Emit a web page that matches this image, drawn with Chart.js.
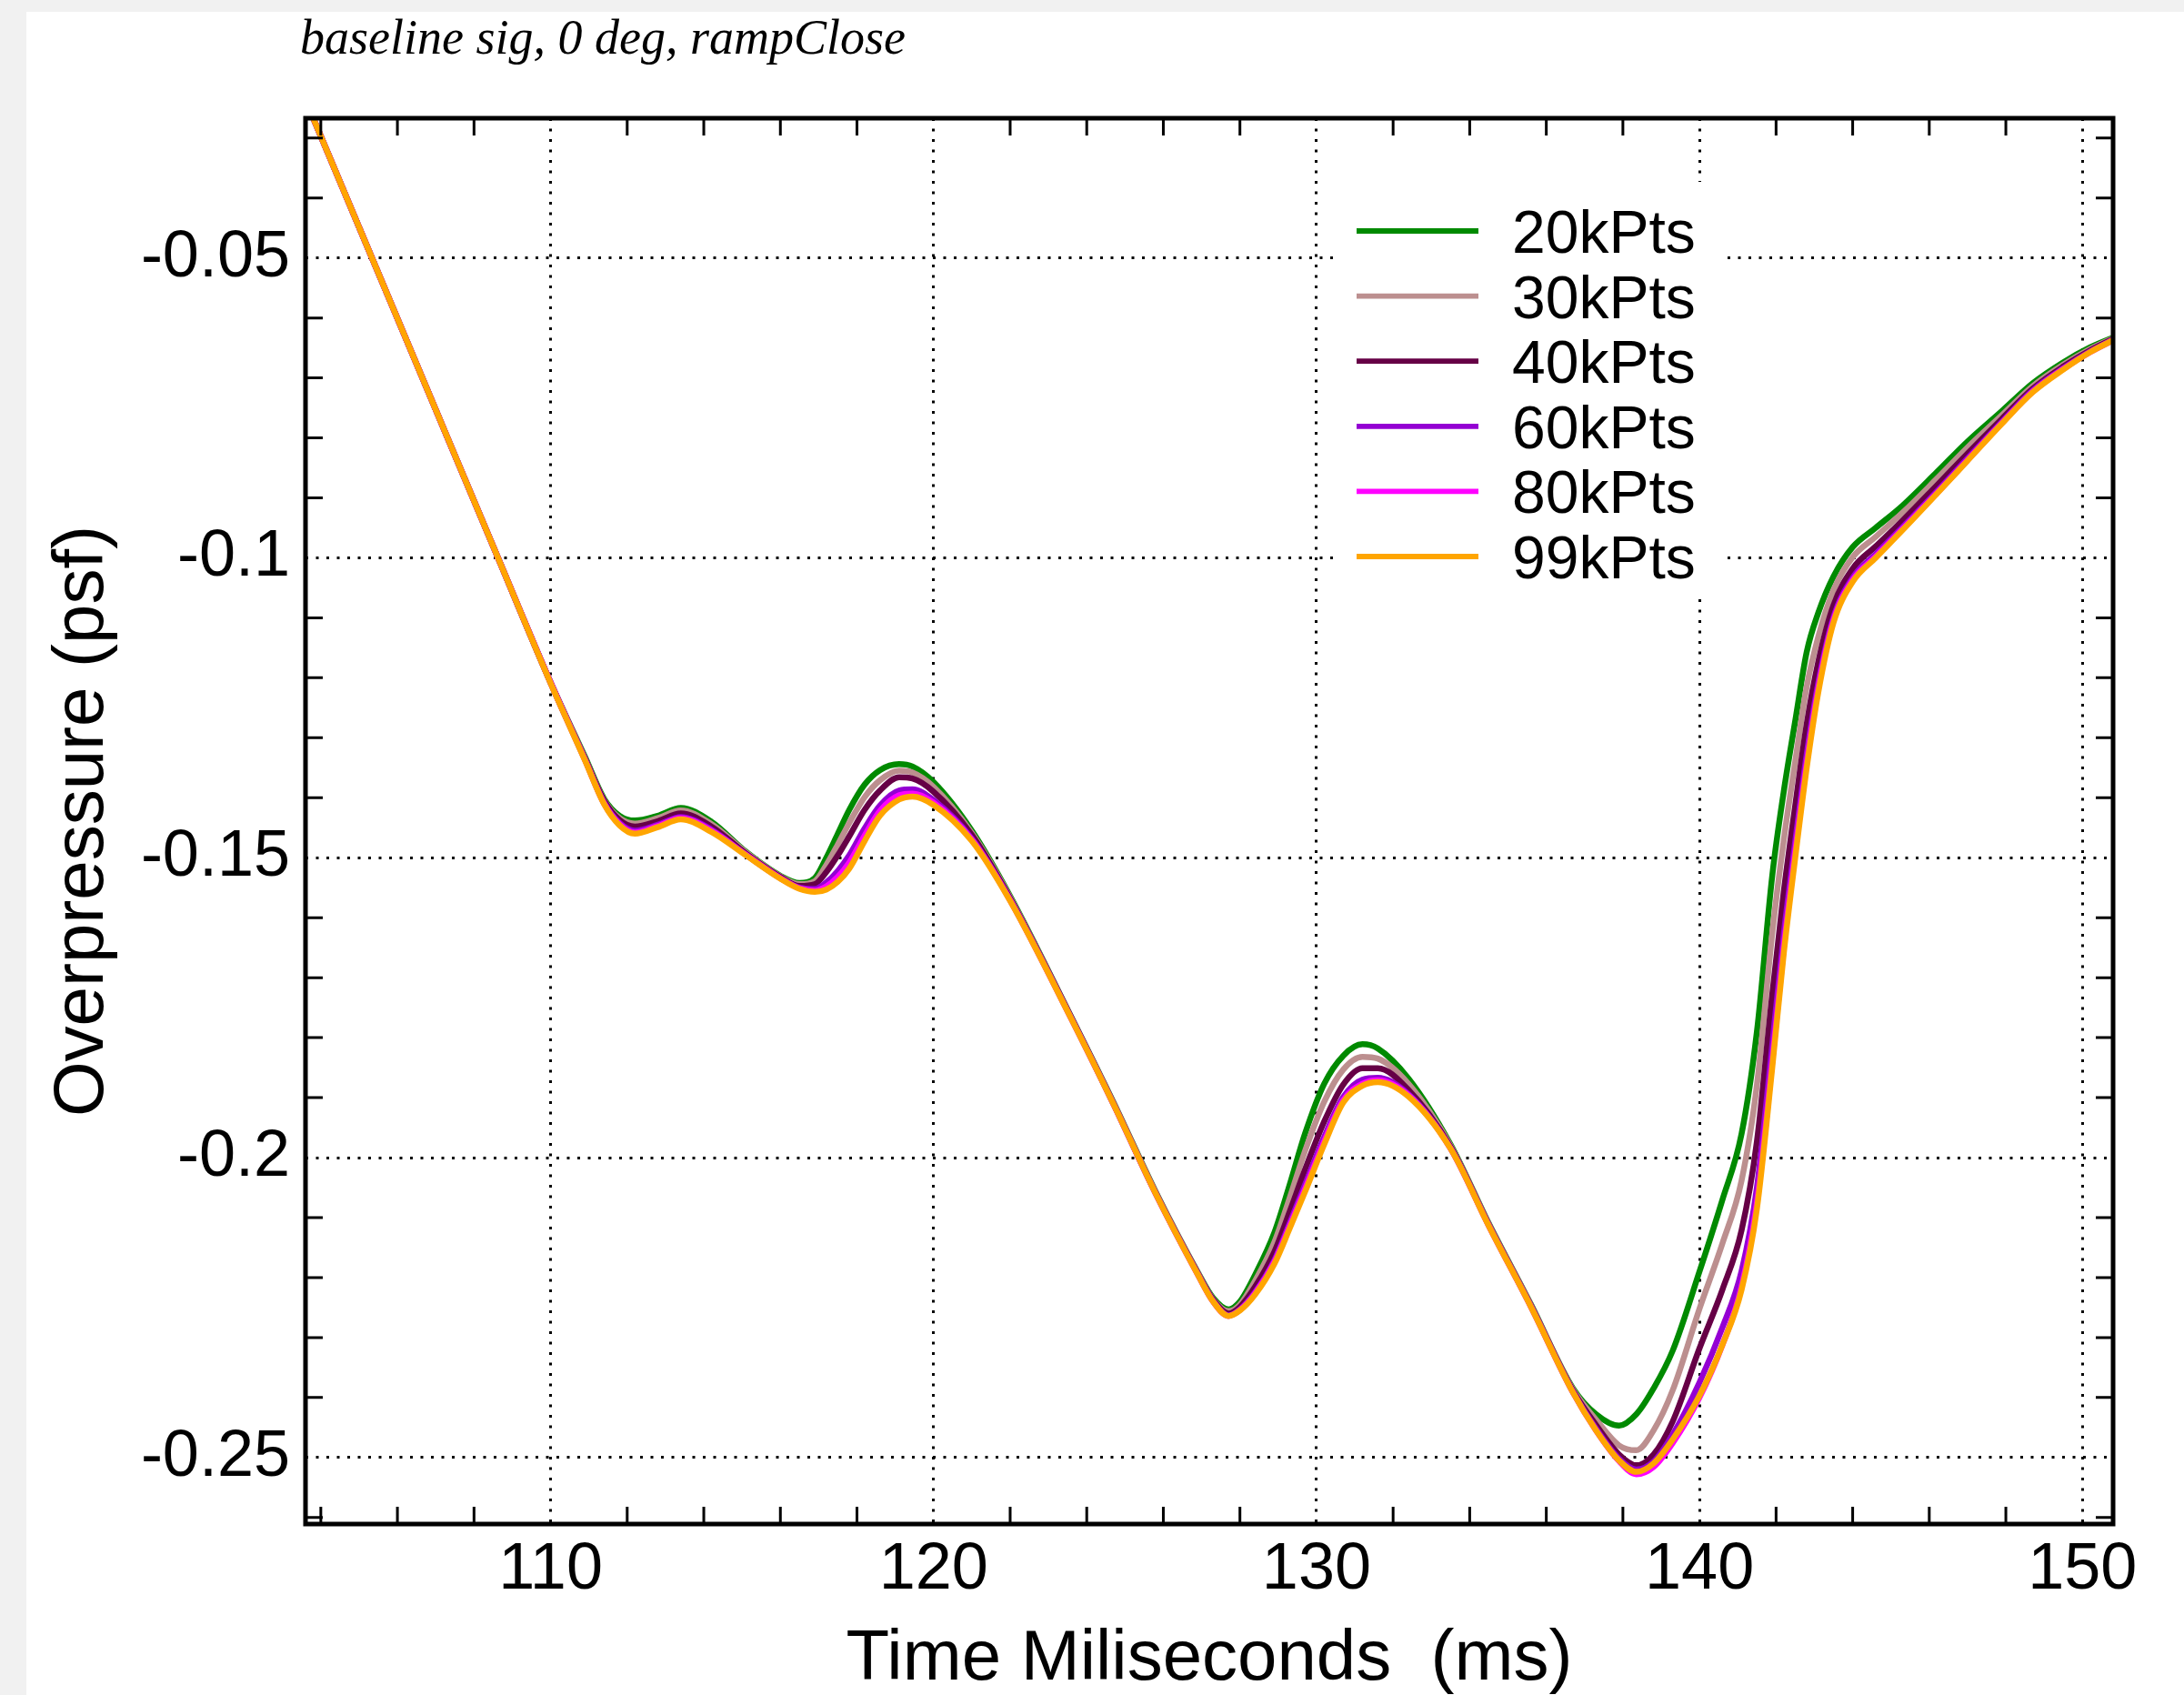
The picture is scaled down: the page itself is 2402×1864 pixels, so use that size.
<!DOCTYPE html>
<html>
<head>
<meta charset="utf-8">
<script src="https://cdn.jsdelivr.net/npm/chart.js@4.4.1/dist/chart.umd.min.js"></script>
<style>
html,body{margin:0;padding:0;background:#f1f1f1;width:2402px;height:1864px;overflow:hidden;}
#wrap{position:absolute;left:29px;top:13px;width:2373px;height:1851px;background:#ffffff;}
canvas{display:block;}
</style>
</head>
<body>
<div id="wrap"><canvas id="c" width="2373" height="1851"></canvas></div>
<script>
// ---------------- data ----------------
const chartTitle = 'baseline sig, 0 deg, rampClose';
const xTitle = 'Time Miliseconds  (ms)';
const yTitle = 'Overpressure (psf)';
const seriesNames = ['20kPts', '30kPts', '40kPts', '60kPts', '80kPts', '99kPts'];
const seriesColors = ['#008a00', '#bc8f8f', '#660046', '#9400d3', '#ff00ff', '#ffa500'];

const timeMs = [103.5,105,107,108.6,110,110.9,111.4,111.8,112.2,112.8,113.4,114.2,115.1,116.0,116.5,116.9,117.2,117.5,117.8,118.2,118.6,119.1,119.45,120.0,121.0,122.0,123.6,124.7,125.8,126.9,127.3,127.7,128.0,128.4,128.9,129.3,129.7,130.2,130.7,131.2,131.6,132.4,133.5,134.5,135.6,136.7,137.3,137.9,138.35,138.8,139.3,140.0,140.6,141.1,141.5,141.9,142.2,142.5,142.8,143.1,143.5,144.0,144.6,145.3,146.2,147.0,147.9,148.7,149.5,150.2,150.9];

const p20k = [-0.0221,-0.0449,-0.0753,-0.0996,-0.1208,-0.1332,-0.1402,-0.1430,-0.1438,-0.1430,-0.1417,-0.1440,-0.1490,-0.1530,-0.1542,-0.1534,-0.1500,-0.1460,-0.1420,-0.1378,-0.1354,-0.1344,-0.1348,-0.1374,-0.1455,-0.1564,-0.1766,-0.1908,-0.2057,-0.2191,-0.2234,-0.2253,-0.2240,-0.2195,-0.2125,-0.2045,-0.1960,-0.1877,-0.1830,-0.1811,-0.1818,-0.1868,-0.1978,-0.2110,-0.2245,-0.2385,-0.2428,-0.2447,-0.2428,-0.2385,-0.2322,-0.2190,-0.2070,-0.1960,-0.1790,-0.1530,-0.1390,-0.1272,-0.1157,-0.1092,-0.1031,-0.0982,-0.0950,-0.0913,-0.0857,-0.0806,-0.0755,-0.0709,-0.0674,-0.0649,-0.0630];

const p30k = [-0.0221,-0.0449,-0.0753,-0.0996,-0.1208,-0.1334,-0.1404,-0.1434,-0.1443,-0.1434,-0.1421,-0.1444,-0.1491,-0.1531,-0.1544,-0.1539,-0.1512,-0.1478,-0.1442,-0.1399,-0.1371,-0.1355,-0.1358,-0.1382,-0.1459,-0.1566,-0.1767,-0.1909,-0.2058,-0.2192,-0.2236,-0.2256,-0.2245,-0.2205,-0.2141,-0.2067,-0.1989,-0.1907,-0.1853,-0.1832,-0.1835,-0.1877,-0.1980,-0.2111,-0.2246,-0.2387,-0.2437,-0.2480,-0.2488,-0.2455,-0.2388,-0.2252,-0.2143,-0.2038,-0.1879,-0.1626,-0.1471,-0.1340,-0.1215,-0.1132,-0.1054,-0.0999,-0.0965,-0.0925,-0.0868,-0.0816,-0.0762,-0.0714,-0.0678,-0.0652,-0.0631];

const p40k = [-0.0221,-0.0449,-0.0753,-0.0996,-0.1208,-0.1335,-0.1405,-0.1437,-0.1448,-0.1439,-0.1426,-0.1448,-0.1493,-0.1532,-0.1547,-0.1544,-0.1524,-0.1496,-0.1464,-0.1420,-0.1388,-0.1366,-0.1368,-0.1390,-0.1462,-0.1568,-0.1767,-0.1910,-0.2059,-0.2193,-0.2237,-0.2260,-0.2249,-0.2215,-0.2157,-0.2090,-0.2020,-0.1940,-0.1878,-0.1851,-0.1851,-0.1887,-0.1982,-0.2112,-0.2247,-0.2389,-0.2446,-0.2495,-0.2513,-0.2495,-0.2440,-0.2318,-0.2220,-0.2121,-0.1973,-0.1728,-0.1557,-0.1413,-0.1277,-0.1174,-0.1079,-0.1018,-0.0981,-0.0938,-0.0879,-0.0826,-0.0768,-0.0718,-0.0681,-0.0654,-0.0632];

const p60k = [-0.0221,-0.0449,-0.0753,-0.0996,-0.1208,-0.1337,-0.1409,-0.1442,-0.1455,-0.1445,-0.1432,-0.1453,-0.1495,-0.1534,-0.1550,-0.1552,-0.1541,-0.1522,-0.1496,-0.1451,-0.1413,-0.1388,-0.1386,-0.1404,-0.1468,-0.1570,-0.1768,-0.1911,-0.2060,-0.2194,-0.2239,-0.2263,-0.2253,-0.2224,-0.2171,-0.2109,-0.2045,-0.1966,-0.1899,-0.1870,-0.1867,-0.1894,-0.1984,-0.2113,-0.2248,-0.2391,-0.2452,-0.2502,-0.2520,-0.2507,-0.2462,-0.2375,-0.2283,-0.2189,-0.2050,-0.1812,-0.1628,-0.1473,-0.1327,-0.1209,-0.1099,-0.1033,-0.0994,-0.0949,-0.0889,-0.0834,-0.0773,-0.0721,-0.0684,-0.0656,-0.0633];

const p80k = [-0.0221,-0.0449,-0.0753,-0.0996,-0.1208,-0.1337,-0.1410,-0.1444,-0.1458,-0.1447,-0.1434,-0.1455,-0.1495,-0.1534,-0.1551,-0.1555,-0.1548,-0.1532,-0.1508,-0.1463,-0.1422,-0.1396,-0.1393,-0.1408,-0.1470,-0.1571,-0.1769,-0.1911,-0.2060,-0.2195,-0.2240,-0.2264,-0.2254,-0.2226,-0.2174,-0.2114,-0.2052,-0.1973,-0.1904,-0.1877,-0.1871,-0.1896,-0.1985,-0.2114,-0.2249,-0.2392,-0.2455,-0.2506,-0.2528,-0.2516,-0.2476,-0.2400,-0.2312,-0.2215,-0.2075,-0.1840,-0.1650,-0.1490,-0.1342,-0.1218,-0.1104,-0.1037,-0.0998,-0.0952,-0.0892,-0.0837,-0.0775,-0.0723,-0.0685,-0.0657,-0.0634];

const p99k = [-0.0221,-0.0449,-0.0753,-0.0996,-0.1209,-0.1338,-0.1411,-0.1446,-0.1460,-0.1449,-0.1436,-0.1457,-0.1496,-0.1535,-0.1552,-0.1557,-0.1553,-0.1540,-0.1518,-0.1472,-0.1430,-0.1403,-0.1398,-0.1412,-0.1472,-0.1572,-0.1769,-0.1911,-0.2060,-0.2195,-0.2240,-0.2264,-0.2255,-0.2228,-0.2177,-0.2118,-0.2057,-0.1978,-0.1908,-0.1880,-0.1874,-0.1898,-0.1985,-0.2114,-0.2249,-0.2392,-0.2455,-0.2505,-0.2524,-0.2510,-0.2470,-0.2397,-0.2312,-0.2220,-0.2085,-0.1850,-0.1660,-0.1500,-0.1350,-0.1225,-0.1108,-0.1040,-0.1000,-0.0954,-0.0893,-0.0838,-0.0776,-0.0724,-0.0686,-0.0657,-0.0634];

const xMajorTicks = [110, 120, 130, 140, 150];
const yMajorTicks = [-0.05, -0.1, -0.15, -0.2, -0.25];
const xMinorTicks = [104,106,108,112,114,116,118,122,124,126,128,132,134,136,138,142,144,146,148];
const yMinorTicks = [-0.03,-0.04,-0.06,-0.07,-0.08,-0.09,-0.11,-0.12,-0.13,-0.14,-0.16,-0.17,-0.18,-0.19,-0.21,-0.22,-0.23,-0.24,-0.26];
const xRange = [103.6, 150.8];
const yRange = [-0.2611, -0.0267];

// ---------------- chart ----------------
const allSeries = [p20k, p30k, p40k, p60k, p80k, p99k];
const SANS = '"Liberation Sans", Arial, Helvetica, sans-serif';

const datasets = allSeries.map((s, i) => ({
  label: seriesNames[i],
  data: timeMs.map((t, k) => ({x: t, y: s[k]})),
  borderColor: seriesColors[i],
  backgroundColor: seriesColors[i],
  borderWidth: 6.5,
  pointRadius: 0,
  fill: false,
  cubicInterpolationMode: 'monotone',
  clip: 0,
  order: allSeries.length - i
}));

const decor = {
  id: 'decor',
  afterDatasetsDraw(chart) {
    const ctx = chart.ctx;
    ctx.save();
    ctx.fillStyle = '#ffffff';
    ctx.fillRect(1441, 187, 425, 458);
    chart.data.datasets.forEach((ds, i) => {
      const yy = 241 + i * 71.6;
      ctx.strokeStyle = ds.borderColor;
      ctx.lineWidth = 5.8;
      ctx.lineCap = 'butt';
      ctx.beginPath();
      ctx.moveTo(1463, yy);
      ctx.lineTo(1597, yy);
      ctx.stroke();
      ctx.fillStyle = '#000';
      ctx.font = '66px ' + SANS;
      ctx.textAlign = 'left';
      ctx.textBaseline = 'alphabetic';
      ctx.fillText(ds.label, 1634, yy + 24);
    });
    ctx.restore();
  },
  afterDraw(chart) {
    const {ctx, chartArea: a, scales: {x, y}} = chart;
    ctx.save();
    ctx.strokeStyle = '#000';
    ctx.lineWidth = 3;
    ctx.lineCap = 'butt';
    ctx.beginPath();
    xMinorTicks.forEach(v => {
      const px = x.getPixelForValue(v);
      ctx.moveTo(px, a.bottom); ctx.lineTo(px, a.bottom - 19);
      ctx.moveTo(px, a.top); ctx.lineTo(px, a.top + 19);
    });
    yMinorTicks.forEach(v => {
      const py = y.getPixelForValue(v);
      ctx.moveTo(a.left, py); ctx.lineTo(a.left + 19, py);
      ctx.moveTo(a.right, py); ctx.lineTo(a.right - 19, py);
    });
    ctx.stroke();
    ctx.lineWidth = 5;
    ctx.strokeRect(a.left, a.top, a.right - a.left, a.bottom - a.top);
    ctx.fillStyle = '#000';
    ctx.font = 'italic 54px "Liberation Serif", "Times New Roman", serif';
    ctx.textAlign = 'left';
    ctx.textBaseline = 'alphabetic';
    ctx.fillText(chartTitle, 301, 46);
    ctx.restore();
  }
};

new Chart(document.getElementById('c'), {
  type: 'line',
  data: {datasets},
  plugins: [decor],
  options: {
    responsive: false,
    animation: false,
    devicePixelRatio: 1,
    layout: {padding: {left: 0, top: 117, right: 78, bottom: 0}},
    plugins: {legend: {display: false}, title: {display: false}, tooltip: {enabled: false}},
    scales: {
      x: {
        type: 'linear',
        min: xRange[0],
        max: xRange[1],
        afterBuildTicks: (s) => { s.ticks = xMajorTicks.map(v => ({value: v})); },
        afterFit: (s) => { s.height = 188; },
        ticks: {
          color: '#000', font: {family: SANS, size: 72, lineHeight: 1.2},
          padding: 8, maxRotation: 0, autoSkip: false,
          callback: (v) => String(v)
        },
        grid: {color: '#000', lineWidth: 3, drawTicks: false, borderDash: [3, 8.5]},
        border: {display: false, dash: [3, 8.5]},
        title: {display: true, text: xTitle, color: '#000',
                font: {family: SANS, size: 78, lineHeight: 1}, padding: {top: 0, bottom: 0}}
      },
      y: {
        type: 'linear',
        min: yRange[0],
        max: yRange[1],
        afterBuildTicks: (s) => { s.ticks = yMajorTicks.map(v => ({value: v})); },
        afterFit: (s) => { s.width = 307; },
        ticks: {
          color: '#000', font: {family: SANS, size: 72, lineHeight: 1.2},
          padding: 17, autoSkip: false,
          callback: (v) => String(v)
        },
        grid: {color: '#000', lineWidth: 3, drawTicks: false, borderDash: [3, 8.5]},
        border: {display: false, dash: [3, 8.5]},
        title: {display: true, text: yTitle, color: '#000',
                font: {family: SANS, size: 78, lineHeight: 1}, padding: {top: 23, bottom: 0}}
      }
    }
  }
});
</script>
</body>
</html>
